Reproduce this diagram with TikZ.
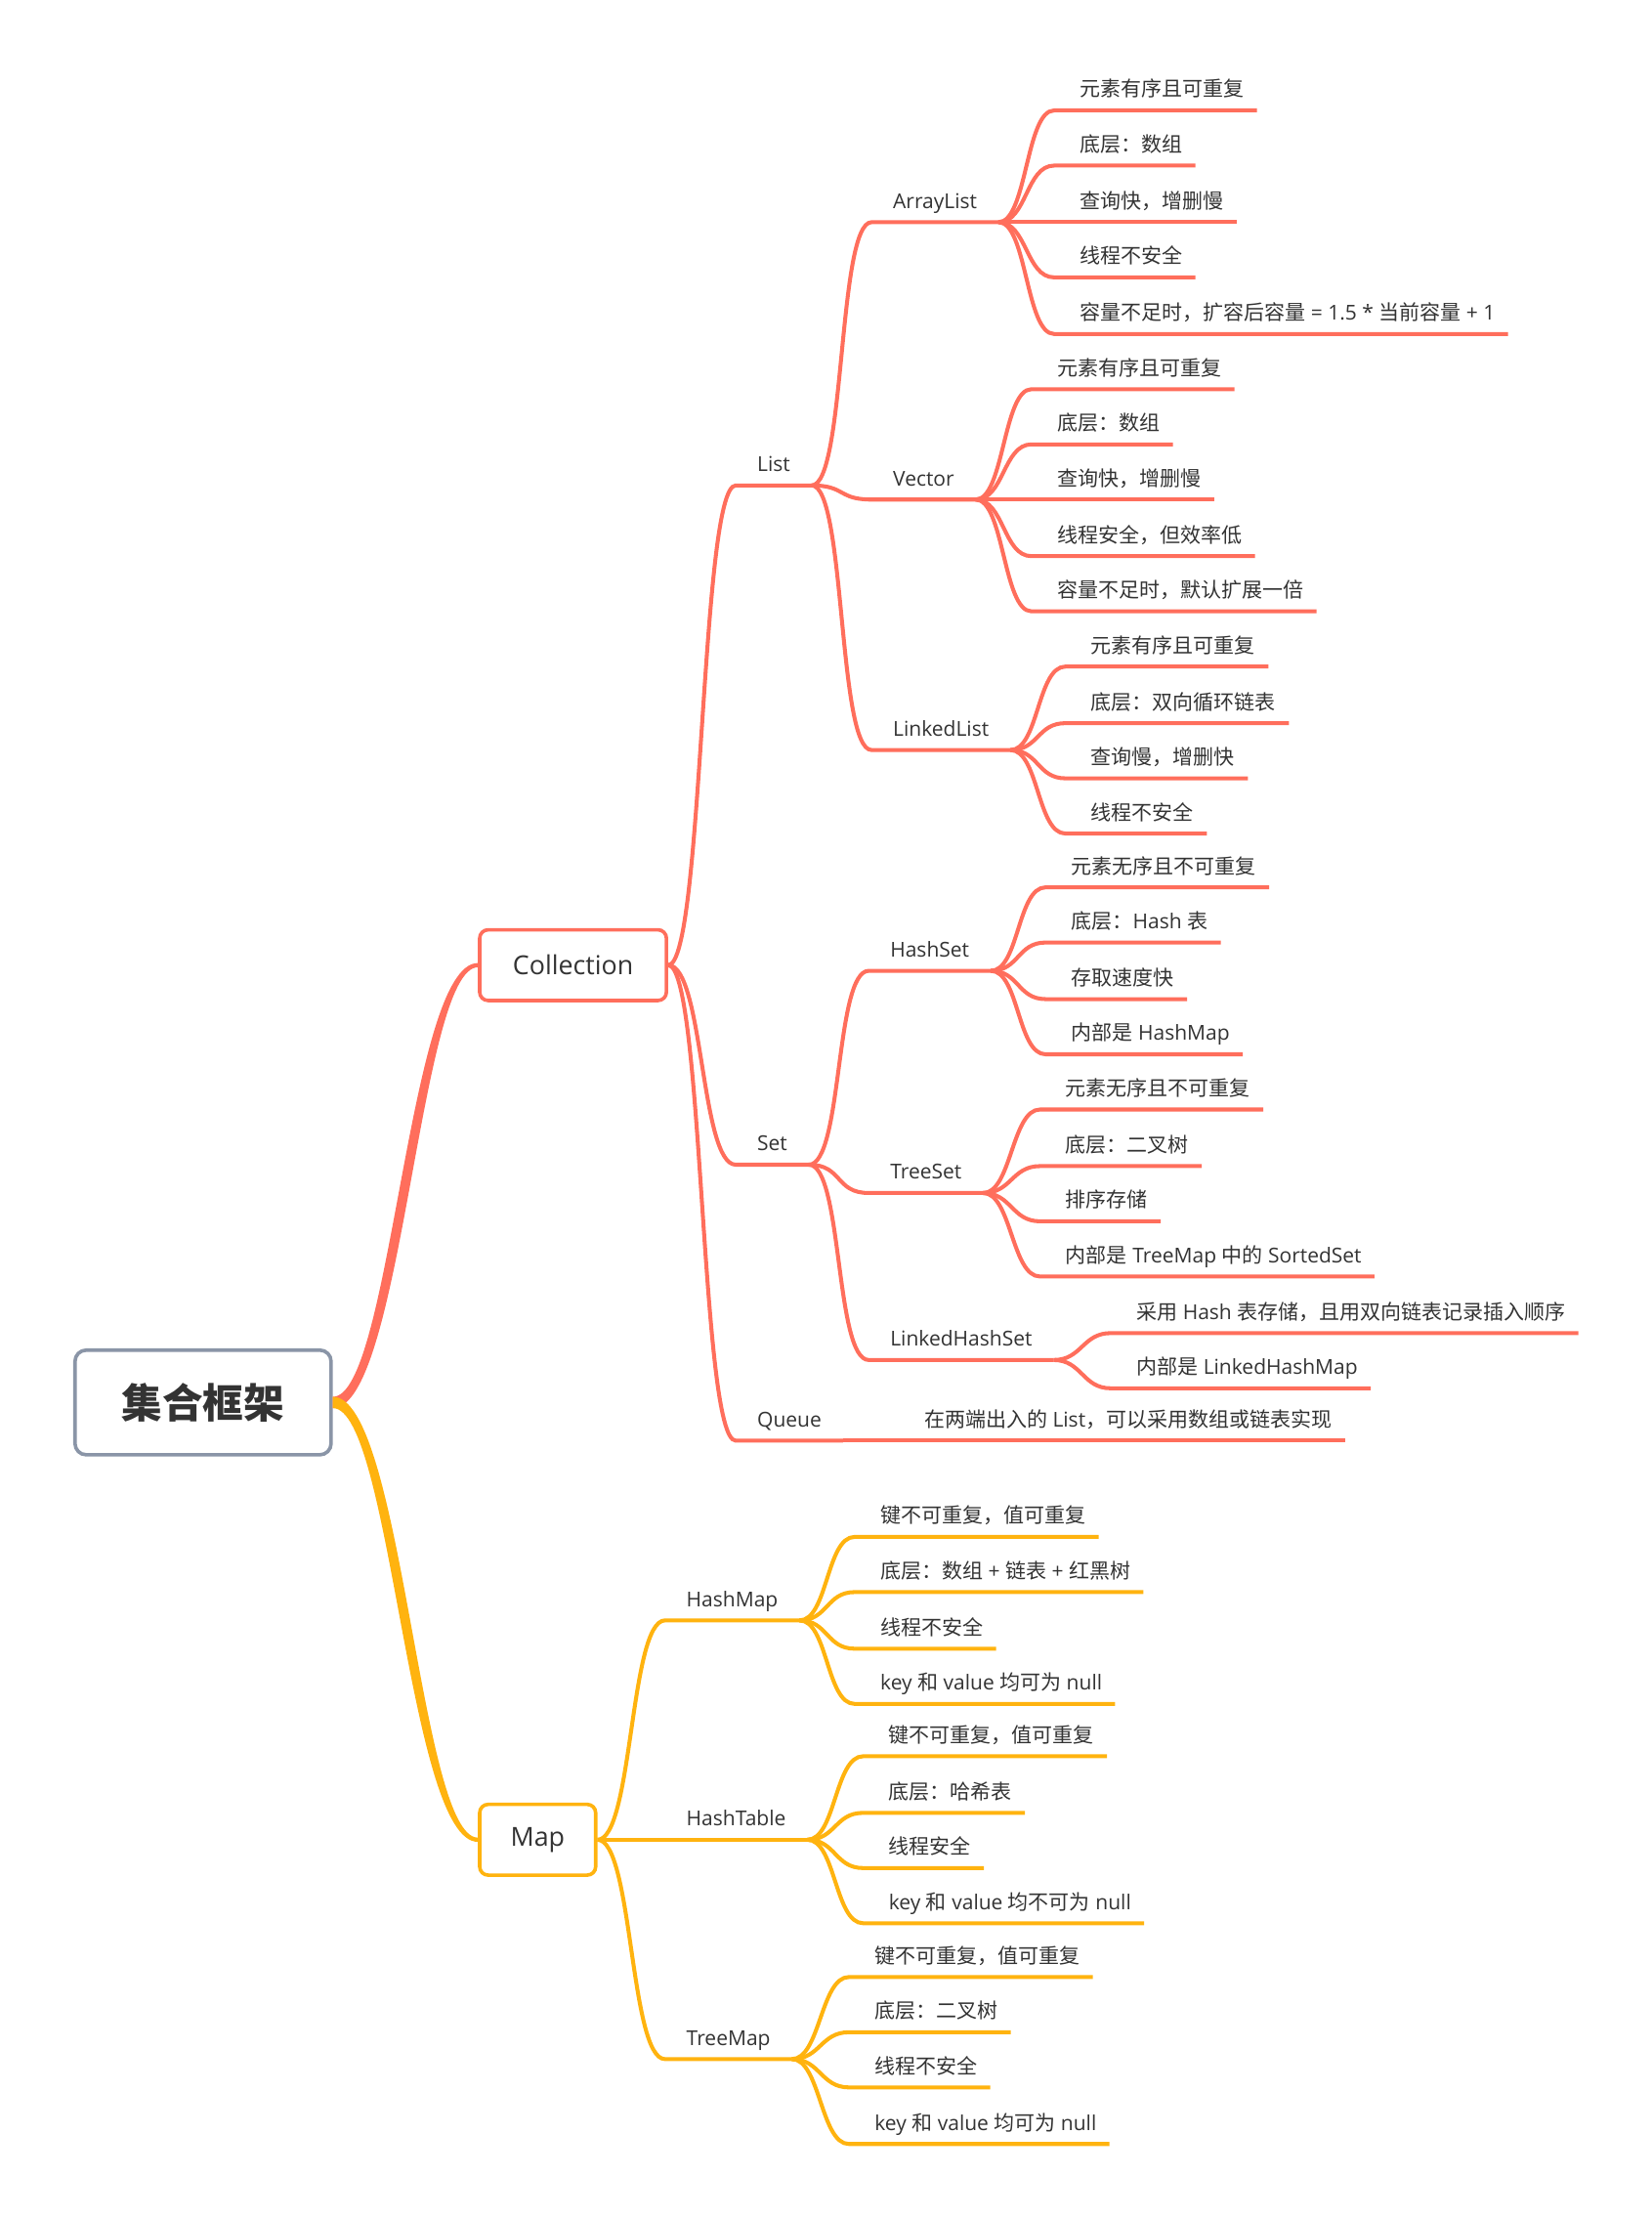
\documentclass[tikz,border=0pt]{standalone}
\usepackage{fontspec}
\setmainfont{Open Sans}
\newfontfamily\cjk{Noto Sans CJK SC}
% switch to the CJK font for Chinese characters and back again
\XeTeXinterchartokenstate=1
\chardef\cjkcls=7
\newcount\cjkcnt
\cjkcnt="4E00
\loop\XeTeXcharclass\cjkcnt=\cjkcls\advance\cjkcnt by 1\ifnum\cjkcnt<"A000\repeat
\cjkcnt="3000
\loop\XeTeXcharclass\cjkcnt=\cjkcls\advance\cjkcnt by 1\ifnum\cjkcnt<"3040\repeat
\cjkcnt="FF00
\loop\XeTeXcharclass\cjkcnt=\cjkcls\advance\cjkcnt by 1\ifnum\cjkcnt<"FFF0\repeat
\XeTeXinterchartoks 0 \cjkcls={\cjk}
\XeTeXinterchartoks 4095 \cjkcls={\cjk}
\XeTeXinterchartoks \cjkcls 0={\rmfamily}
\XeTeXinterchartoks \cjkcls 4095={\rmfamily}
\usepackage{tikz}
\definecolor{redline}{HTML}{FF6E5C}
\definecolor{yellowline}{HTML}{FFB30F}
\definecolor{rootgray}{HTML}{8A95A7}
\definecolor{textgray}{HTML}{333333}

\begin{document}
\begin{tikzpicture}[x=1pt, y=-1pt, text=textgray,
    font=\fontsize{14.5pt}{17pt}\selectfont,
    rootbox/.style={draw=rootgray, line width=2.5pt, rounded corners=8pt, fill=white,
      minimum width=181pt, minimum height=74pt, font=\fontsize{28.75pt}{34pt}\selectfont\bfseries},
    mainbox/.style={draw=#1, line width=2.5pt, rounded corners=6pt, fill=white,
      minimum height=50pt, font=\fontsize{18.5pt}{22pt}\selectfont},
    topic/.style={anchor=south west, inner xsep=15pt, inner ysep=6.5pt, text height=10.5pt, text depth=3pt},
    leaf/.style={topic, inner xsep=9pt},
    link/.style={draw=#1, line width=2.8pt}]
  \useasboundingbox (0,0) rectangle (1167,1568);

  % central topic and main branches
  \node[rootbox] (root) at (143.5,991) {集合框架};
  \node[mainbox=redline, minimum width=132pt] (collection) at (405,682) {Collection};
  \node[mainbox=yellowline, minimum width=82pt] (map) at (380,1300) {Map};
  \fill[redline] ([yshift=4pt]root.east) .. controls +(41,0) and +(-49,0) .. ([yshift=1.5pt]collection.west)
    -- ([yshift=-1.5pt]collection.west) .. controls +(-41,0) and +(49,0) .. ([yshift=-4pt]root.east) -- cycle;
  \fill[yellowline] ([yshift=-4pt]root.east) .. controls +(41,0) and +(-49,0) .. ([yshift=-1.5pt]map.west)
    -- ([yshift=1.5pt]map.west) .. controls +(-41,0) and +(49,0) .. ([yshift=4pt]root.east) -- cycle;

  % Collection
  \node[topic] (list) at (520,343) {List};
  \node[topic] (set) at (520,823) {Set};
  \node[topic] (queue) at (520,1018) {Queue};
  \draw[link=redline] (collection.east) .. controls +(25,0) and +(-25,0) .. (list.south west) -- (list.south east);
  \draw[link=redline] (collection.east) .. controls +(25,0) and +(-25,0) .. (set.south west) -- (set.south east);
  \draw[link=redline] (collection.east) .. controls +(25,0) and +(-25,0) .. (queue.south west) -- (queue.south east);

  % List
  \node[topic] (arraylist) at (616,157) {ArrayList};
  \node[topic] (vector) at (616,353) {Vector};
  \node[topic] (linkedlist) at (616,530) {LinkedList};
  \draw[link=redline] (list.south east) .. controls +(24,0) and +(-24,0) .. (arraylist.south west) -- (arraylist.south east);
  \draw[link=redline] (list.south east) .. controls +(24,0) and +(-24,0) .. (vector.south west) -- (vector.south east);
  \draw[link=redline] (list.south east) .. controls +(24,0) and +(-24,0) .. (linkedlist.south west) -- (linkedlist.south east);

  \node[leaf] (al1) at (754,78) {元素有序且可重复};
  \node[leaf] (al2) at (754,117) {底层：数组};
  \node[leaf] (al3) at (754,157) {查询快，增删慢};
  \node[leaf] (al4) at (754,196) {线程不安全};
  \node[leaf] (al5) at (754,236) {容量不足时，扩容后容量 = 1.5 * 当前容量 + 1};
  \draw[link=redline] (arraylist.south east) .. controls +(20,0) and +(-20,0) .. ([xshift=-9pt]al1.south west) -- (al1.south east);
  \draw[link=redline] (arraylist.south east) .. controls +(20,0) and +(-20,0) .. ([xshift=-9pt]al2.south west) -- (al2.south east);
  \draw[link=redline] (arraylist.south east) .. controls +(20,0) and +(-20,0) .. ([xshift=-9pt]al3.south west) -- (al3.south east);
  \draw[link=redline] (arraylist.south east) .. controls +(20,0) and +(-20,0) .. ([xshift=-9pt]al4.south west) -- (al4.south east);
  \draw[link=redline] (arraylist.south east) .. controls +(20,0) and +(-20,0) .. ([xshift=-9pt]al5.south west) -- (al5.south east);

  \node[leaf] (vec1) at (738,275) {元素有序且可重复};
  \node[leaf] (vec2) at (738,314) {底层：数组};
  \node[leaf] (vec3) at (738,353) {查询快，增删慢};
  \node[leaf] (vec4) at (738,393) {线程安全，但效率低};
  \node[leaf] (vec5) at (738,432) {容量不足时，默认扩展一倍};
  \draw[link=redline] (vector.south east) .. controls +(20,0) and +(-20,0) .. ([xshift=-9pt]vec1.south west) -- (vec1.south east);
  \draw[link=redline] (vector.south east) .. controls +(20,0) and +(-20,0) .. ([xshift=-9pt]vec2.south west) -- (vec2.south east);
  \draw[link=redline] (vector.south east) .. controls +(20,0) and +(-20,0) .. ([xshift=-9pt]vec3.south west) -- (vec3.south east);
  \draw[link=redline] (vector.south east) .. controls +(20,0) and +(-20,0) .. ([xshift=-9pt]vec4.south west) -- (vec4.south east);
  \draw[link=redline] (vector.south east) .. controls +(20,0) and +(-20,0) .. ([xshift=-9pt]vec5.south west) -- (vec5.south east);

  \node[leaf] (ll1) at (762,471) {元素有序且可重复};
  \node[leaf] (ll2) at (762,511) {底层：双向循环链表};
  \node[leaf] (ll3) at (762,550) {查询慢，增删快};
  \node[leaf] (ll4) at (762,589) {线程不安全};
  \draw[link=redline] (linkedlist.south east) .. controls +(20,0) and +(-20,0) .. ([xshift=-9pt]ll1.south west) -- (ll1.south east);
  \draw[link=redline] (linkedlist.south east) .. controls +(20,0) and +(-20,0) .. ([xshift=-9pt]ll2.south west) -- (ll2.south east);
  \draw[link=redline] (linkedlist.south east) .. controls +(20,0) and +(-20,0) .. ([xshift=-9pt]ll3.south west) -- (ll3.south east);
  \draw[link=redline] (linkedlist.south east) .. controls +(20,0) and +(-20,0) .. ([xshift=-9pt]ll4.south west) -- (ll4.south east);

  % Set
  \node[topic] (hashset) at (614,686) {HashSet};
  \node[topic] (treeset) at (614,843) {TreeSet};
  \node[topic] (linkedhashset) at (614,961) {LinkedHashSet};
  \draw[link=redline] (set.south east) .. controls +(24,0) and +(-24,0) .. (hashset.south west) -- (hashset.south east);
  \draw[link=redline] (set.south east) .. controls +(24,0) and +(-24,0) .. (treeset.south west) -- (treeset.south east);
  \draw[link=redline] (set.south east) .. controls +(24,0) and +(-24,0) .. (linkedhashset.south west) -- (linkedhashset.south east);

  \node[leaf] (hs1) at (748,627) {元素无序且不可重复};
  \node[leaf] (hs2) at (748,666) {底层：Hash 表};
  \node[leaf] (hs3) at (748,706) {存取速度快};
  \node[leaf] (hs4) at (748,745) {内部是 HashMap};
  \draw[link=redline] (hashset.south east) .. controls +(20,0) and +(-20,0) .. ([xshift=-9pt]hs1.south west) -- (hs1.south east);
  \draw[link=redline] (hashset.south east) .. controls +(20,0) and +(-20,0) .. ([xshift=-9pt]hs2.south west) -- (hs2.south east);
  \draw[link=redline] (hashset.south east) .. controls +(20,0) and +(-20,0) .. ([xshift=-9pt]hs3.south west) -- (hs3.south east);
  \draw[link=redline] (hashset.south east) .. controls +(20,0) and +(-20,0) .. ([xshift=-9pt]hs4.south west) -- (hs4.south east);

  \node[leaf] (ts1) at (744,784) {元素无序且不可重复};
  \node[leaf] (ts2) at (744,824) {底层：二叉树};
  \node[leaf] (ts3) at (744,863) {排序存储};
  \node[leaf] (ts4) at (744,902) {内部是 TreeMap 中的 SortedSet};
  \draw[link=redline] (treeset.south east) .. controls +(20,0) and +(-20,0) .. ([xshift=-9pt]ts1.south west) -- (ts1.south east);
  \draw[link=redline] (treeset.south east) .. controls +(20,0) and +(-20,0) .. ([xshift=-9pt]ts2.south west) -- (ts2.south east);
  \draw[link=redline] (treeset.south east) .. controls +(20,0) and +(-20,0) .. ([xshift=-9pt]ts3.south west) -- (ts3.south east);
  \draw[link=redline] (treeset.south east) .. controls +(20,0) and +(-20,0) .. ([xshift=-9pt]ts4.south west) -- (ts4.south east);

  \node[leaf] (lhs1) at (794,942) {采用 Hash 表存储，且用双向链表记录插入顺序};
  \node[leaf] (lhs2) at (794,981) {内部是 LinkedHashMap};
  \draw[link=redline] (linkedhashset.south east) .. controls +(20,0) and +(-20,0) .. ([xshift=-9pt]lhs1.south west) -- (lhs1.south east);
  \draw[link=redline] (linkedhashset.south east) .. controls +(20,0) and +(-20,0) .. ([xshift=-9pt]lhs2.south west) -- (lhs2.south east);

  % Queue
  \node[leaf] (q1) at (644,1018) {在两端出入的 List，可以采用数组或链表实现};
  \draw[link=redline] (queue.south east) -- ([xshift=-9pt]q1.south west) -- (q1.south east);

  % Map
  \node[topic] (hashmap) at (470,1145) {HashMap};
  \node[topic] (hashtable) at (470,1300) {HashTable};
  \node[topic] (treemap) at (470,1455) {TreeMap};
  \draw[link=yellowline] (map.east) .. controls +(25,0) and +(-25,0) .. (hashmap.south west) -- (hashmap.south east);
  \draw[link=yellowline] (map.east) -- (hashtable.south west) -- (hashtable.south east);
  \draw[link=yellowline] (map.east) .. controls +(25,0) and +(-25,0) .. (treemap.south west) -- (treemap.south east);

  \node[leaf] (hm1) at (613,1086) {键不可重复，值可重复};
  \node[leaf] (hm2) at (613,1125) {底层：数组 + 链表 + 红黑树};
  \node[leaf] (hm3) at (613,1165) {线程不安全};
  \node[leaf] (hm4) at (613,1204) {key 和 value 均可为 null};
  \draw[link=yellowline] (hashmap.south east) .. controls +(20,0) and +(-20,0) .. ([xshift=-9pt]hm1.south west) -- (hm1.south east);
  \draw[link=yellowline] (hashmap.south east) .. controls +(20,0) and +(-20,0) .. ([xshift=-9pt]hm2.south west) -- (hm2.south east);
  \draw[link=yellowline] (hashmap.south east) .. controls +(20,0) and +(-20,0) .. ([xshift=-9pt]hm3.south west) -- (hm3.south east);
  \draw[link=yellowline] (hashmap.south east) .. controls +(20,0) and +(-20,0) .. ([xshift=-9pt]hm4.south west) -- (hm4.south east);

  \node[leaf] (ht1) at (619,1241) {键不可重复，值可重复};
  \node[leaf] (ht2) at (619,1281) {底层：哈希表};
  \node[leaf] (ht3) at (619,1320) {线程安全};
  \node[leaf] (ht4) at (619,1359) {key 和 value 均不可为 null};
  \draw[link=yellowline] (hashtable.south east) .. controls +(20,0) and +(-20,0) .. ([xshift=-9pt]ht1.south west) -- (ht1.south east);
  \draw[link=yellowline] (hashtable.south east) .. controls +(20,0) and +(-20,0) .. ([xshift=-9pt]ht2.south west) -- (ht2.south east);
  \draw[link=yellowline] (hashtable.south east) .. controls +(20,0) and +(-20,0) .. ([xshift=-9pt]ht3.south west) -- (ht3.south east);
  \draw[link=yellowline] (hashtable.south east) .. controls +(20,0) and +(-20,0) .. ([xshift=-9pt]ht4.south west) -- (ht4.south east);

  \node[leaf] (tm1) at (609,1397) {键不可重复，值可重复};
  \node[leaf] (tm2) at (609,1436) {底层：二叉树};
  \node[leaf] (tm3) at (609,1475) {线程不安全};
  \node[leaf] (tm4) at (609,1515) {key 和 value 均可为 null};
  \draw[link=yellowline] (treemap.south east) .. controls +(20,0) and +(-20,0) .. ([xshift=-9pt]tm1.south west) -- (tm1.south east);
  \draw[link=yellowline] (treemap.south east) .. controls +(20,0) and +(-20,0) .. ([xshift=-9pt]tm2.south west) -- (tm2.south east);
  \draw[link=yellowline] (treemap.south east) .. controls +(20,0) and +(-20,0) .. ([xshift=-9pt]tm3.south west) -- (tm3.south east);
  \draw[link=yellowline] (treemap.south east) .. controls +(20,0) and +(-20,0) .. ([xshift=-9pt]tm4.south west) -- (tm4.south east);
\end{tikzpicture}
\end{document}
